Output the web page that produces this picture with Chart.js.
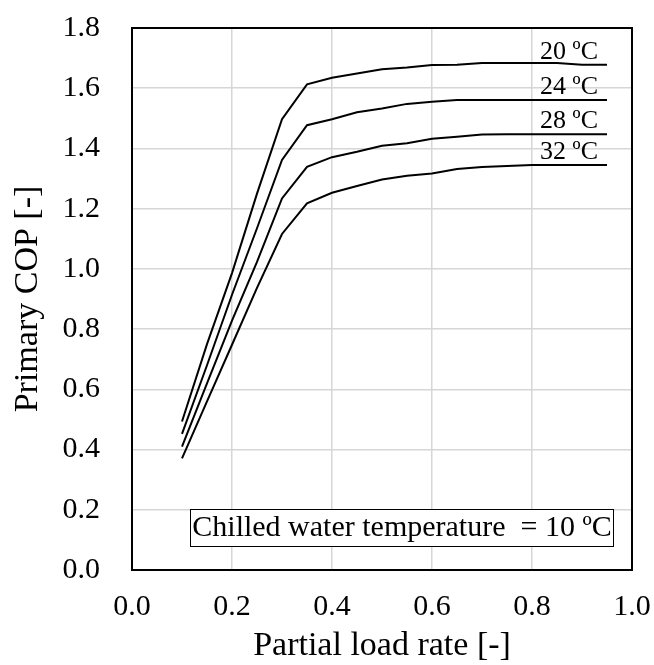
<!DOCTYPE html>
<html>
<head>
<meta charset="utf-8">
<script src="https://cdn.jsdelivr.net/npm/chart.js@4/dist/chart.umd.min.js"></script>
<style>
  html, body { margin: 0; padding: 0; background: #ffffff; }
  #wrap { width: 654px; height: 665px; }
</style>
</head>
<body>
<div id="wrap"><canvas id="c" width="654" height="665"></canvas></div>
<script>
// ---- data ----
const loadRate = [0.10, 0.15, 0.20, 0.25, 0.30, 0.35, 0.40, 0.45, 0.50, 0.55, 0.60, 0.65, 0.70, 0.75, 0.80, 0.85, 0.90, 0.95];
const cop20 = [0.493, 0.750, 0.986, 1.250, 1.497, 1.613, 1.635, 1.649, 1.663, 1.669, 1.677, 1.678, 1.684, 1.684, 1.684, 1.684, 1.678, 1.678];
const cop24 = [0.452, 0.680, 0.914, 1.135, 1.362, 1.477, 1.497, 1.520, 1.533, 1.548, 1.555, 1.561, 1.561, 1.561, 1.561, 1.561, 1.561, 1.561];
const cop28 = [0.410, 0.620, 0.828, 1.023, 1.234, 1.339, 1.371, 1.389, 1.409, 1.417, 1.432, 1.439, 1.446, 1.447, 1.447, 1.447, 1.447, 1.447];
const cop32 = [0.371, 0.560, 0.748, 0.937, 1.116, 1.218, 1.253, 1.275, 1.297, 1.309, 1.317, 1.332, 1.338, 1.342, 1.345, 1.345, 1.345, 1.345];
const seriesLabels = ['20 ºC', '24 ºC', '28 ºC', '32 ºC'];
const noteText = 'Chilled water temperature  = 10 ºC';
const xTitle = 'Partial load rate [-]';
const yTitle = 'Primary COP [-]';

const FONT = "'Liberation Serif', 'Times New Roman', serif";

function pts(ys) { return loadRate.map((x, i) => ({ x: x, y: ys[i] })); }
const allSeries = [cop20, cop24, cop28, cop32];

const datasets = allSeries.map((ys, i) => ({
  label: seriesLabels[i],
  data: pts(ys),
  borderColor: '#000000',
  borderWidth: 2,
  pointRadius: 0,
  tension: 0,
  fill: false
}));

const decorPlugin = {
  id: 'decor',
  afterDraw(chart) {
    const { ctx, chartArea: a, scales: { x, y } } = chart;
    ctx.save();
    // frame
    ctx.strokeStyle = '#000000';
    ctx.lineWidth = 2;
    ctx.strokeRect(a.left, a.top, a.right - a.left, a.bottom - a.top);

    // series labels above line ends
    ctx.font = "26px " + FONT;
    ctx.fillStyle = '#000000';
    ctx.textAlign = 'right';
    ctx.textBaseline = 'alphabetic';
    chart.data.datasets.forEach((ds) => {
      const last = ds.data[ds.data.length - 1];
      const px = x.getPixelForValue(last.x);
      const py = y.getPixelForValue(last.y);
      ctx.fillText(ds.label, px - 9, py - 6);
    });

    // note box
    ctx.font = "30px " + FONT;
    const w = ctx.measureText(noteText).width;
    const cx = x.getPixelForValue(0.54);
    const cy = y.getPixelForValue(0.141);
    const bw = w + 4, bh = 37;
    ctx.fillStyle = '#ffffff';
    ctx.fillRect(cx - bw / 2, cy - bh / 2, bw, bh);
    ctx.strokeStyle = '#000000';
    ctx.lineWidth = 1;
    ctx.strokeRect(Math.round(cx - bw / 2) + 0.5, Math.round(cy - bh / 2) + 0.5, Math.round(bw), bh);
    ctx.fillStyle = '#000000';
    ctx.textAlign = 'center';
    ctx.textBaseline = 'middle';
    ctx.fillText(noteText, cx, cy + 1);
    ctx.restore();
  }
};

new Chart(document.getElementById('c'), {
  type: 'line',
  data: { datasets: datasets },
  options: {
    responsive: false,
    animation: false,
    devicePixelRatio: 1,
    layout: { padding: { left: 0, top: 28, right: 22, bottom: 0 } },
    plugins: { legend: { display: false }, tooltip: { enabled: false } },
    scales: {
      x: {
        type: 'linear',
        min: 0, max: 1,
        afterFit(s) { s.height = 95; s.paddingLeft = 0; s.paddingRight = 0; },
        ticks: {
          stepSize: 0.2, autoSkip: false, maxRotation: 0, padding: 19,
          color: '#000000',
          font: { family: FONT, size: 30 },
          callback: (v) => Number(v).toFixed(1)
        },
        grid: { color: '#d6d6d6', lineWidth: 1.5, drawTicks: false },
        border: { display: false },
        title: {
          display: true, text: xTitle, color: '#000000',
          font: { family: FONT, size: 34, lineHeight: 1.1 },
          padding: { top: 0, bottom: 0 }
        }
      },
      y: {
        type: 'linear',
        min: 0, max: 1.8,
        afterFit(s) { s.width = 132; s.paddingTop = 0; s.paddingBottom = 0; },
        ticks: {
          stepSize: 0.2, autoSkip: false, padding: 32,
          color: '#000000',
          font: { family: FONT, size: 30 },
          callback: (v) => Number(v).toFixed(1)
        },
        grid: { color: '#d6d6d6', lineWidth: 1.5, drawTicks: false },
        border: { display: false },
        title: {
          display: true, text: yTitle, color: '#000000',
          font: { family: FONT, size: 34, lineHeight: 1.2 },
          padding: { top: 8, bottom: 0 }
        }
      }
    }
  },
  plugins: [decorPlugin]
});
</script>
</body>
</html>
